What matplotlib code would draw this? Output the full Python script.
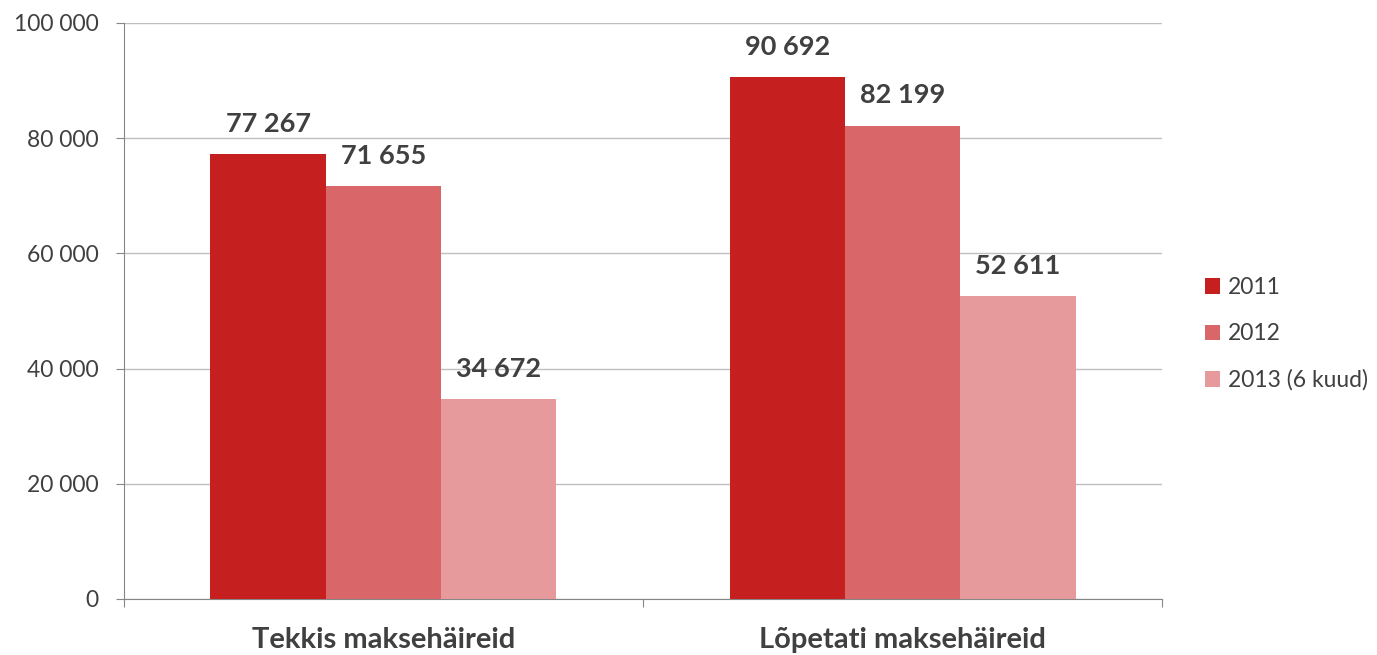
import numpy as np
import matplotlib.pyplot as plt
from matplotlib.ticker import FuncFormatter

plt.rcParams['font.family'] = ['Lato', 'DejaVu Sans']

categories = ['Tekkis maksehäireid', 'Lõpetati maksehäireid']
series = ['2011', '2012', '2013 (6 kuud)']
values_2011 = [77267, 90692]
values_2012 = [71655, 82199]
values_2013 = [34672, 52611]
colors = ['#C61F20', '#D9676A', '#E79A9B']

fig = plt.figure(figsize=(13.77, 6.55), dpi=100)
ax = fig.add_axes([0.0900, 0.0855, 0.7539, 0.8794])

x = np.arange(len(categories))
w = 2 / 9
data = [values_2011, values_2012, values_2013]
for i, (name, vals) in enumerate(zip(series, data)):
    bars = ax.bar(x + (i - 1) * w, vals, w, color=colors[i], label=name, zorder=3)
    for b, v in zip(bars, vals):
        ax.annotate(f'{v:,}'.replace(',', ' '), (b.get_x() + b.get_width() / 2, v),
                    xytext=(0, 13), textcoords='offset points', ha='center', va='bottom',
                    fontsize=19.5, fontweight='bold', color='#404040')

ax.set_xlim(-0.5, 1.5)
ax.set_ylim(0, 100000)
ax.set_yticks(np.arange(0, 100001, 20000))
ax.yaxis.set_major_formatter(FuncFormatter(lambda v, p: f'{int(v):,}'.replace(',', ' ')))
ax.set_xticks([-0.5, 0.5, 1.5])
ax.set_xticklabels([])
ax.set_xticks(x, minor=True)
ax.set_xticklabels(categories, minor=True, fontsize=21, fontweight='bold', color='#404040')
ax.tick_params(axis='x', which='minor', length=0, pad=20)
ax.tick_params(axis='x', which='major', length=6, color='#868686')
ax.tick_params(axis='y', length=6, color='#868686', labelsize=16.5, labelcolor='#404040', pad=12)

ax.grid(axis='y', color='#BFBFBF', linewidth=1, zorder=0)
for s in ['top', 'right']:
    ax.spines[s].set_visible(False)
for s in ['left', 'bottom']:
    ax.spines[s].set_color('#868686')

leg = fig.legend(loc='center left', bbox_to_anchor=(0.875, 0.49), frameon=False,
                 borderaxespad=0, borderpad=0,
                 fontsize=16.5, handlelength=0.65, handleheight=0.65, handletextpad=0.35,
                 labelspacing=1.1, labelcolor='#404040')

fig.savefig('out.png', dpi=100)
